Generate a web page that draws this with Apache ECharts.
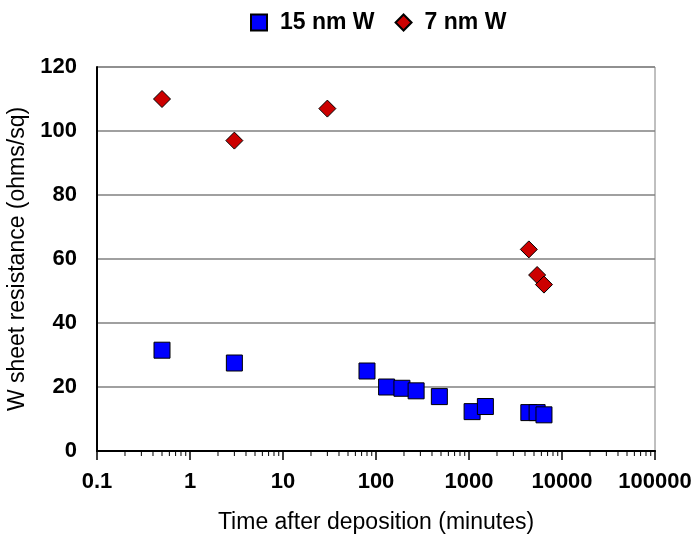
<!DOCTYPE html>
<html><head><meta charset="utf-8">
<script src="https://cdn.jsdelivr.net/npm/echarts@6/dist/echarts.min.js"></script>
<style>html,body{margin:0;padding:0;background:#fff}#c{width:696px;height:536px}</style>
</head><body><div id="c"></div>
<script>
const seriesNames = ['15 nm W', '7 nm W'];
const time15 = [0.5, 3, 80, 130, 190, 270, 480, 1080, 1500, 4400, 5400, 6400];
const res15 = [31.5, 27.5, 25, 20, 19.6, 18.8, 17, 12.3, 13.9, 12, 12, 11.3];
const time7 = [0.5, 3, 30, 4400, 5400, 6400];
const res7 = [110, 97, 107, 63, 55, 52];
const xTickLabels = ['0.1', '1', '10', '100', '1000', '10000', '100000'];
const yTickLabels = ['0', '20', '40', '60', '80', '100', '120'];

// minor tick positions (2..9 within each decade) - axis decoration
const minorTicks = [];
for (let d = 0; d < xTickLabels.length - 1; d++) {
  const base = parseFloat(xTickLabels[d]);
  for (let k = 2; k <= 9; k++) minorTicks.push([base * k, 0]);
}

const FONT = '"Liberation Sans", Arial, sans-serif';
const chart = echarts.init(document.getElementById('c'), null, {renderer: 'canvas'});
chart.setOption({
  animation: false,
  backgroundColor: '#fff',
  textStyle: {fontFamily: FONT},
  legend: {
    left: 245, top: 6,
    itemWidth: 16, itemHeight: 16, itemGap: 20,
    textStyle: {fontFamily: FONT, fontSize: 23, fontWeight: 'bold', color: '#000', padding: [0, 0, 0, 8]},
    data: [
      {name: seriesNames[0], icon: 'rect'},
      {name: seriesNames[1], icon: 'diamond'}
    ]
  },
  grid: {left: 97, right: 41, top: 67, bottom: 85, show: true, borderColor: '#808080', borderWidth: 1,
         containLabel: false, outerBoundsMode: 'none'},
  xAxis: [{
    type: 'log', logBase: 10, min: 0.1, max: 100000, splitNumber: 6,
    name: 'Time after deposition (minutes)', nameLocation: 'middle', nameGap: 60,
    nameTextStyle: {fontFamily: FONT, fontSize: 23, color: '#000'},
    axisLine: {show: true, onZero: false, lineStyle: {color: '#000', width: 2}},
    axisTick: {show: true, inside: false, length: 9, lineStyle: {color: '#000', width: 1.5}},
    axisLabel: {
      margin: 20, fontFamily: FONT, fontSize: 22, fontWeight: 'bold', color: '#000',
      formatter: function (v) { const i = Math.round(Math.log10(v)) + 1; return xTickLabels[i] !== undefined ? xTickLabels[i] : ''; }
    },
    splitLine: {show: false}
  }, {
    type: 'log', logBase: 10, min: 0.1, max: 100000, position: 'top',
    axisLine: {show: true, lineStyle: {color: '#000', width: 1.5}},
    axisTick: {show: false}, axisLabel: {show: false}, splitLine: {show: false}
  }],
  yAxis: {
    type: 'value', min: 0, max: 120, interval: 20,
    name: 'W sheet resistance (ohms/sq)', nameLocation: 'middle', nameGap: 66, nameRotate: 90,
    nameTextStyle: {fontFamily: FONT, fontSize: 23, color: '#000'},
    axisLine: {show: true, lineStyle: {color: '#000', width: 2}},
    axisTick: {show: false},
    axisLabel: {
      margin: 20, fontFamily: FONT, fontSize: 22, fontWeight: 'bold', color: '#000', padding: [3, 0, 0, 0],
      formatter: function (v) { const i = Math.round(v / 20); return yTickLabels[i] !== undefined ? yTickLabels[i] : ''; }
    },
    splitLine: {show: true, lineStyle: {color: '#808080', width: 1.5}}
  },
  series: [
    {
      type: 'custom', name: 'minorTicks', silent: true, clip: false, z: 5,
      data: minorTicks,
      renderItem: function (params, api) {
        const p = api.coord([api.value(0), api.value(1)]);
        return {type: 'line', shape: {x1: p[0], y1: p[1], x2: p[0], y2: p[1] + 5}, style: {stroke: '#000', lineWidth: 1}};
      }
    },
    {
      type: 'scatter', name: seriesNames[0], symbol: 'rect', symbolSize: 16, z: 3,
      itemStyle: {color: '#0000FF', borderColor: '#000', borderWidth: 1, opacity: 1},
      data: time15.map((t, i) => [t, res15[i]])
    },
    {
      type: 'scatter', name: seriesNames[1], symbol: 'diamond', symbolSize: 17, z: 4,
      itemStyle: {color: '#CC0000', borderColor: '#000', borderWidth: 1, opacity: 1},
      data: time7.map((t, i) => [t, res7[i]])
    }
  ]
});
</script>
</body></html>
